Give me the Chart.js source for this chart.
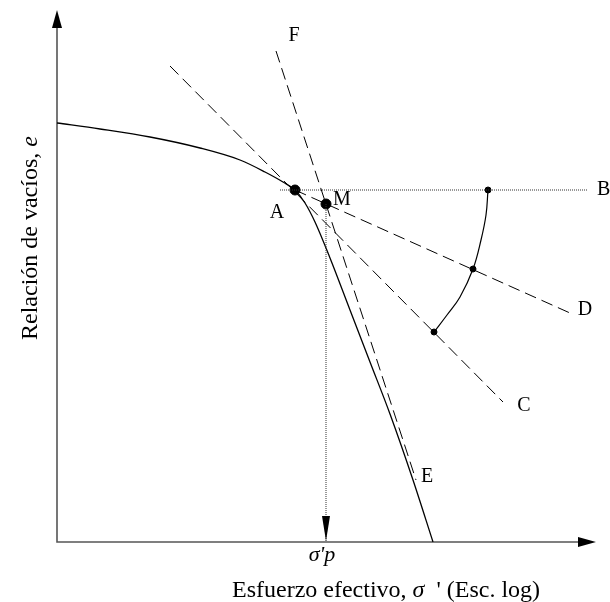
<!DOCTYPE html>
<html lang="es">
<head>
<meta charset="UTF-8">
<title>Método de Casagrande</title>
<style>
    html, body {
        margin: 0;
        padding: 0;
        background: #fff;
    }
    #wrap {
        position: relative;
        width: 610px;
        height: 602px;
    }
</style>
</head>
<body>
<div id="wrap"><canvas id="myChart"></canvas></div>

<script src="https://cdn.jsdelivr.net/npm/chart.js"></script>
<script>
// curva de compresión e - log(σ'), en unidades del dibujo
var curveX = [0.00, 0.43, 0.93, 1.43, 1.83, 2.08, 2.26, 2.38, 2.48, 2.58, 2.73, 2.93, 3.13, 3.33, 3.56, 3.76];
var curveE = [4.19, 4.13, 4.05, 3.94, 3.82, 3.70, 3.60, 3.52, 3.39, 3.20, 2.84, 2.32, 1.80, 1.28, 0.62, 0.00];

// punto de máxima curvatura A y punto M
var pointA = [2.38, 3.52];
var pointM = [2.69, 3.38];

// líneas de la construcción
var lineAB_X = [2.23, 5.30], lineAB_E = [3.52, 3.52];   // horizontal
var lineAC_X = [1.13, 4.46], lineAC_E = [4.76, 1.40];   // tangente
var lineAD_X = [2.38, 5.13], lineAD_E = [3.52, 2.29];   // bisectriz
var lineFE_X = [2.19, 3.59], lineFE_E = [4.91, 0.62];   // tramo virgen
var lineMP_X = [2.69, 2.69], lineMP_E = [3.38, 0.00];   // σ'p

// arco entre AB y AC
var arcX = [4.31, 4.29, 4.24, 4.16, 4.03, 3.90, 3.77];
var arcE = [3.52, 3.27, 3.02, 2.73, 2.45, 2.27, 2.10];
var arcDotsX = [4.31, 4.16, 3.77];
var arcDotsE = [3.52, 2.73, 2.10];

function pts(xs, ys) {
    return xs.map(function(x, i) { return {x: x, y: ys[i]}; });
}

var serif = '"Liberation Serif", "Times New Roman", serif';

var decor = {
    id: 'decor',
    beforeDatasetsDraw: function(chart) {
        var ctx = chart.ctx, a = chart.chartArea;
        ctx.save();
        ctx.strokeStyle = '#555';
        ctx.lineWidth = 1.6;
        ctx.beginPath();
        ctx.moveTo(a.left, a.top + 10);
        ctx.lineTo(a.left, a.bottom);
        ctx.lineTo(a.right - 10, a.bottom);
        ctx.stroke();
        ctx.fillStyle = '#000';
        ctx.beginPath();   // flecha eje y
        ctx.moveTo(a.left, a.top);
        ctx.lineTo(a.left - 5, a.top + 18);
        ctx.lineTo(a.left + 5, a.top + 18);
        ctx.closePath();
        ctx.fill();
        ctx.beginPath();   // flecha eje x
        ctx.moveTo(a.right, a.bottom);
        ctx.lineTo(a.right - 18, a.bottom - 5);
        ctx.lineTo(a.right - 18, a.bottom + 5);
        ctx.closePath();
        ctx.fill();
        ctx.restore();
    },
    afterDatasetsDraw: function(chart) {
        var ctx = chart.ctx, sx = chart.scales.x, sy = chart.scales.y;
        function px(x) { return sx.getPixelForValue(x); }
        function py(y) { return sy.getPixelForValue(y); }
        ctx.save();

        // flecha hacia σ'p
        var ax = px(lineMP_X[1]), ay = py(lineMP_E[1]) - 1;
        ctx.fillStyle = '#000';
        ctx.beginPath();
        ctx.moveTo(ax, ay);
        ctx.lineTo(ax - 4, ay - 25);
        ctx.lineTo(ax + 4, ay - 25);
        ctx.closePath();
        ctx.fill();

        // letras
        ctx.font = '20px ' + serif;
        ctx.textAlign = 'center';
        ctx.textBaseline = 'middle';
        ctx.fillText('A', px(pointA[0]) - 18, py(pointA[1]) + 23);
        ctx.fillText('M', px(pointM[0]) + 16, py(pointM[1]) - 4);
        ctx.fillText('F', px(lineFE_X[0]) + 18, py(lineFE_E[0]) - 15);
        ctx.fillText('E', px(lineFE_X[1]) + 11, py(lineFE_E[1]) - 3);
        ctx.fillText('D', px(lineAD_X[1]) + 15, py(lineAD_E[1]) - 3);
        ctx.fillText('C', px(lineAC_X[1]) + 21, py(lineAC_E[1]) + 4);
        ctx.textAlign = 'left';
        ctx.fillText('B', px(lineAB_X[1]) + 10, py(lineAB_E[1]));

        // σ'p
        ctx.font = 'italic 22px ' + serif;
        ctx.textAlign = 'center';
        ctx.textBaseline = 'alphabetic';
        ctx.fillText("σ'p", ax - 4, 561);

        // título eje x
        ctx.textAlign = 'left';
        var x0 = 232, base = 597;
        ctx.font = '24px ' + serif;
        var t1 = 'Esfuerzo efectivo, ';
        ctx.fillText(t1, x0, base);
        x0 += ctx.measureText(t1).width;
        ctx.font = 'italic 24px ' + serif;
        ctx.fillText('σ', x0, base);
        x0 += ctx.measureText('σ').width;
        ctx.font = '24px ' + serif;
        ctx.fillText("  ' (Esc. log)", x0, base);

        // título eje y
        ctx.translate(37, 340);
        ctx.rotate(-Math.PI / 2);
        var t2 = 'Relación de vacíos, ';
        ctx.fillText(t2, 0, 0);
        var w = ctx.measureText(t2).width;
        ctx.font = 'italic 24px ' + serif;
        ctx.fillText('e', w, 0);
        ctx.restore();
    }
};

var dashed = [12, 6];
var dotted = [1, 1];

function seg(xs, ys, dash, color) {
    return {
        data: pts(xs, ys),
        borderColor: color || '#000',
        borderWidth: 1,
        borderDash: dash,
        pointRadius: 0,
        showLine: true,
        tension: 0
    };
}

var ctx = document.getElementById('myChart').getContext('2d');
window.myChart = new Chart(ctx, {
    type: 'scatter',
    data: {
        datasets: [
            seg(lineAB_X, lineAB_E, dotted, '#333'),
            seg(lineMP_X, lineMP_E, dotted, '#333'),
            seg(lineAC_X, lineAC_E, dashed),
            seg(lineAD_X, lineAD_E, dashed),
            seg(lineFE_X, lineFE_E, dashed),
            {
                data: pts(curveX, curveE),
                borderColor: '#000',
                borderWidth: 1.3,
                pointRadius: 0,
                showLine: true,
                cubicInterpolationMode: 'monotone'
            },
            {
                data: pts(arcX, arcE),
                borderColor: '#000',
                borderWidth: 1.2,
                pointRadius: 0,
                showLine: true,
                tension: 0.4
            },
            {
                data: pts(arcDotsX, arcDotsE),
                backgroundColor: '#000',
                borderColor: '#000',
                pointRadius: 3,
                showLine: false
            },
            {
                data: [{x: pointA[0], y: pointA[1]}, {x: pointM[0], y: pointM[1]}],
                backgroundColor: '#000',
                borderColor: '#000',
                pointRadius: 5,
                showLine: false
            }
        ]
    },
    options: {
        responsive: true,
        maintainAspectRatio: false,
        animation: false,
        layout: { padding: { left: 57, right: 14, top: 10, bottom: 60 } },
        plugins: {
            legend: { display: false },
            tooltip: { enabled: false }
        },
        scales: {
            x: { type: 'linear', min: 0, max: 5.39, display: false },
            y: { type: 'linear', min: 0, max: 5.32, display: false }
        }
    },
    plugins: [decor]
});
</script>
</body>
</html>
